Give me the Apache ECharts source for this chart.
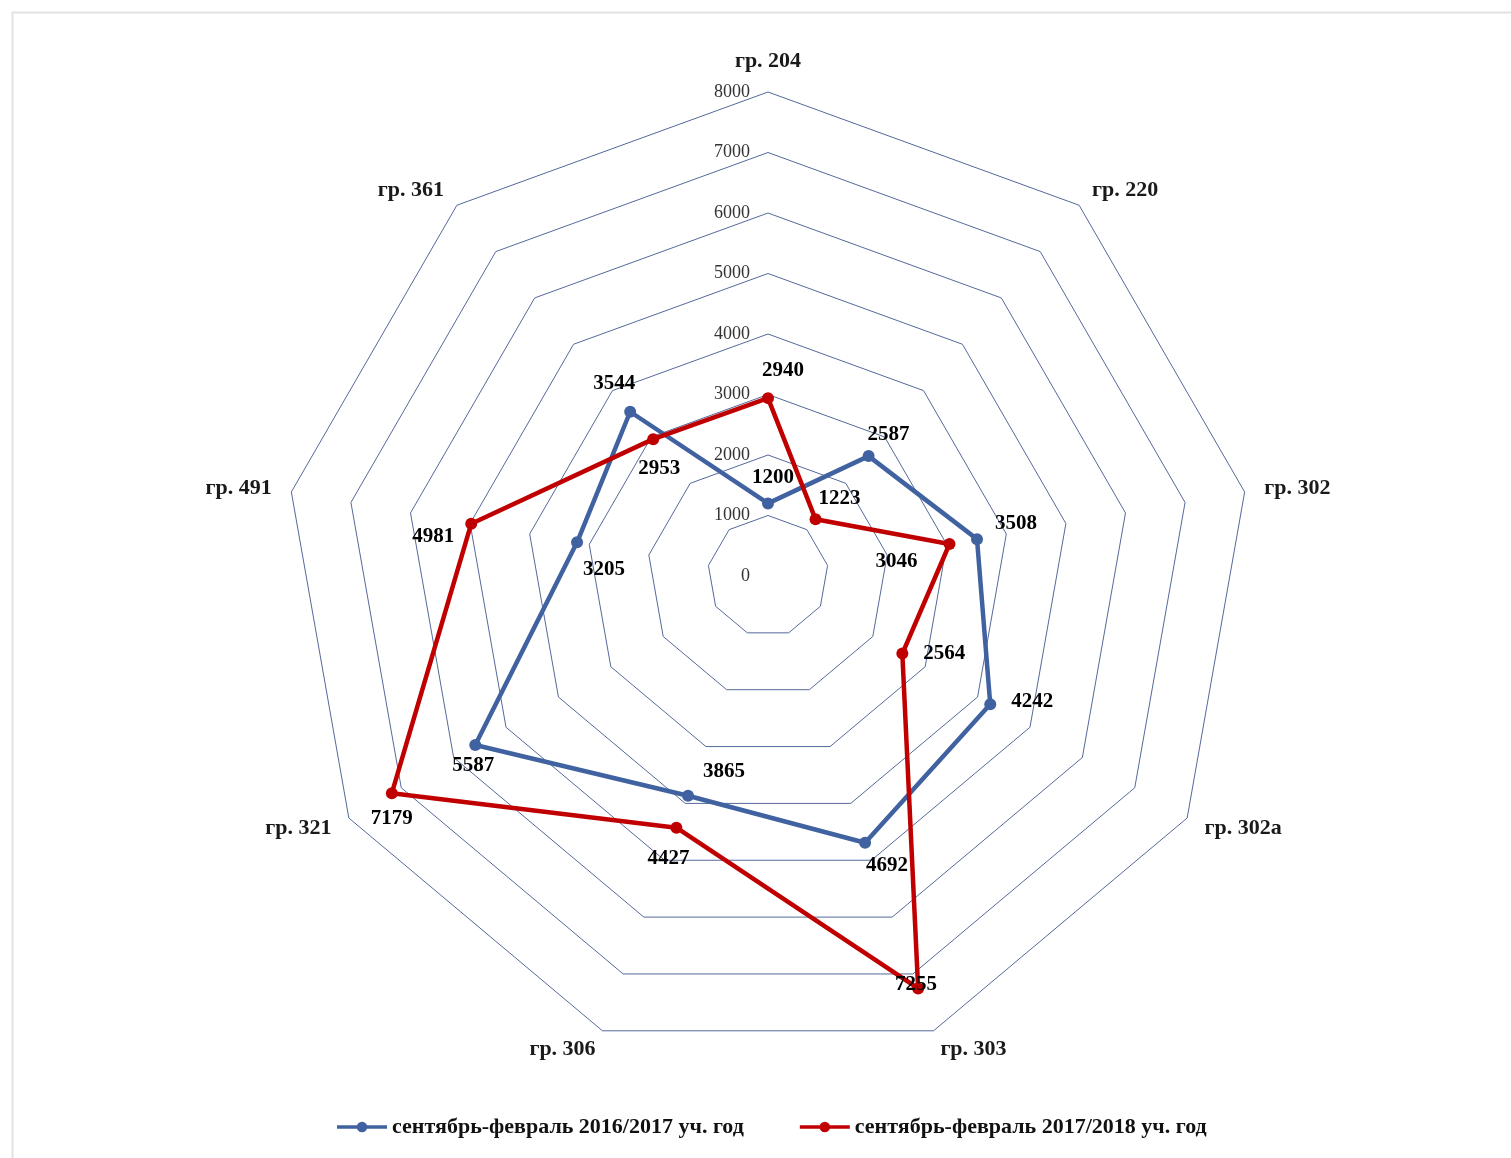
<!DOCTYPE html>
<html><head><meta charset="utf-8">
<script src="https://cdn.jsdelivr.net/npm/echarts@6/dist/echarts.min.js"></script>
<style>html,body{margin:0;padding:0;background:#fff}#chart{width:1511px;height:1158px}</style>
</head><body><div id="chart"></div>
<script>
// ---- data (clockwise from the top) ----
const groups = ['гр. 204', 'гр. 220', 'гр. 302', 'гр. 302а', 'гр. 303', 'гр. 306', 'гр. 321', 'гр. 491', 'гр. 361'];
const axisMax = 8000;
const values2016 = [1200, 2587, 3508, 4242, 4692, 3865, 5587, 3205, 3544];
const values2018 = [2940, 1223, 3046, 2564, 7255, 4427, 7179, 4981, 2953];
const name2016 = 'сентябрь-февраль 2016/2017 уч. год';
const name2018 = 'сентябрь-февраль 2017/2018 уч. год';

// ---- label placement (style: offset of each value label from its point) ----
const labelOffsets2016 = [[5,-26],[20,-22],[39,-16],[42,-3],[22,23],[36,-24],[-2,21],[27,27],[-16,-28]];
const labelOffsets2018 = [[15,-28],[24,-21],[-53,18],[42,0],[-2,-4],[-8,31],[0,25],[-38,13],[6,29]];

const FONT = '"Liberation Serif", "Times New Roman", serif';
const BLUE = '#4062a0';
const RED = '#c00000';

// ECharts lays radar axes counter-clockwise; map to clockwise order
const order = groups.map((_, k) => (k === 0 ? 0 : groups.length - k));
const reorder = (arr) => order.map(i => arr[i]);

const indicator = order.map((gi, k) => {
  const o = { name: groups[gi], max: axisMax, min: 0 };
  if (k === 0) {
    o.axisLabel = {
      show: true, showMinLabel: true, showMaxLabel: true,
      fontFamily: FONT, fontSize: 18, color: '#333', margin: 18,
      formatter: (v) => String(v)
    };
  }
  return o;
});

function labelItems(values, offsets) {
  const vals = reorder(values);
  return values.map((v, i) => ({
    value: vals,
    label: {
      show: true,
      position: 'inside',
      offset: offsets[i],
      color: '#000',
      fontFamily: FONT,
      fontWeight: 'bold',
      fontSize: 21,
      formatter: (p) => (order[p.dimensionIndex] === i ? String(p.value) : '')
    }
  }));
}

const legendIcon = 'path://M0,3.75h52v3.5h-52z M20.5,5.5a5.5,5.5 0 1,1 11,0a5.5,5.5 0 1,1 -11,0z';

const option = {
  backgroundColor: '#fff',
  animation: false,
  graphic: [{
    type: 'rect', left: 10, top: 10, silent: true,
    shape: { width: 1560, height: 1200 },
    style: { fill: 'none', stroke: '#e2e2e2', lineWidth: 2 }
  }],
  legend: {
    data: [
      { name: name2016, icon: legendIcon, itemStyle: { color: BLUE, borderWidth: 0 } },
      { name: name2018, icon: legendIcon, itemStyle: { color: RED, borderWidth: 0 } }
    ],
    left: 332, top: 1111,
    itemWidth: 50, itemHeight: 11, itemGap: 56,
    textStyle: { fontFamily: FONT, fontWeight: 'bold', fontSize: 22, color: '#111' }
  },
  radar: {
    center: [768, 576],
    radius: 484,
    startAngle: 90,
    splitNumber: 8,
    shape: 'polygon',
    indicator: indicator,
    nameGap: 20,
    axisName: { fontFamily: FONT, fontWeight: 'bold', fontSize: 22, color: '#1a1a1a' },
    axisLine: { show: false },
    axisTick: { show: false },
    axisLabel: { show: false },
    splitLine: { lineStyle: { color: '#55699a', width: 1 } },
    splitArea: { show: false }
  },
  series: [
    {
      name: name2016, type: 'radar', silent: true,
      symbol: 'circle', symbolSize: 12,
      lineStyle: { color: BLUE, width: 4.5 },
      itemStyle: { color: BLUE },
      data: [{ value: reorder(values2016), name: name2016 }]
    },
    {
      name: name2018, type: 'radar', silent: true,
      symbol: 'circle', symbolSize: 12,
      lineStyle: { color: RED, width: 4.5 },
      itemStyle: { color: RED },
      data: [{ value: reorder(values2018), name: name2018 }]
    },
    {
      name: 'labels', type: 'radar', silent: true, z: 5,
      symbol: 'circle', symbolSize: 1,
      lineStyle: { width: 0, opacity: 0 },
      itemStyle: { color: 'rgba(0,0,0,0)' },
      data: labelItems(values2016, labelOffsets2016).concat(labelItems(values2018, labelOffsets2018))
    }
  ]
};

const chart = echarts.init(document.getElementById('chart'), null, { renderer: 'canvas' });
chart.setOption(option);
</script>
</body></html>
